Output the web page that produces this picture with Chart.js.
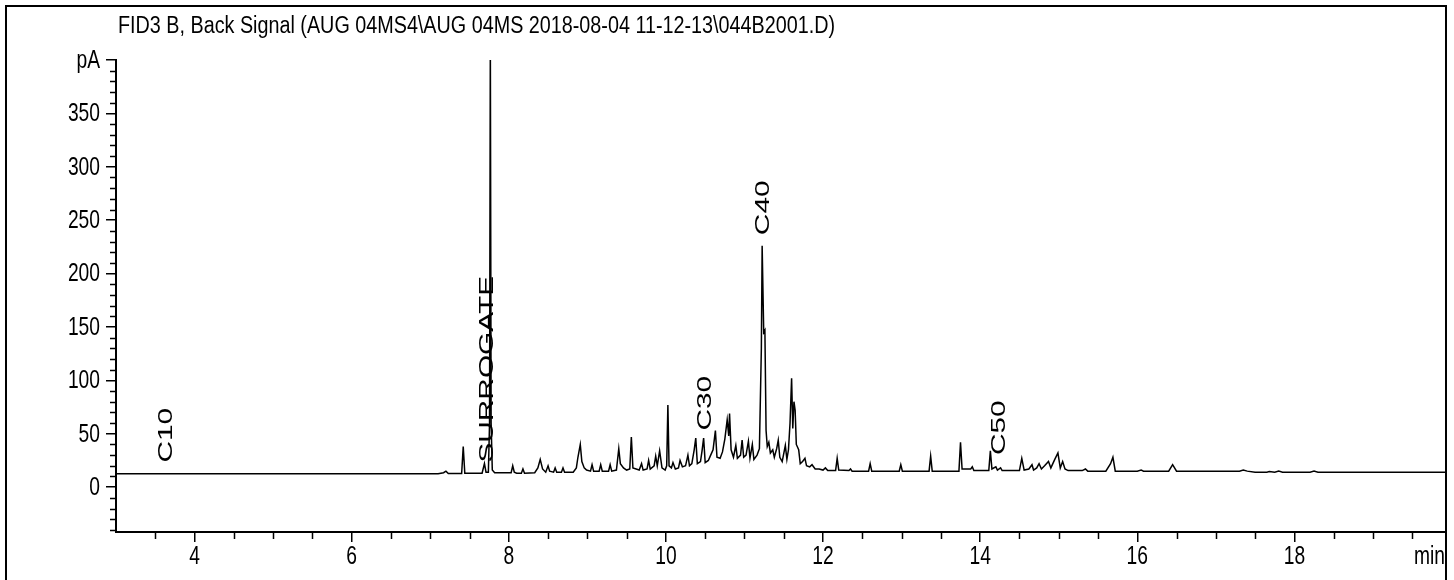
<!DOCTYPE html>
<html>
<head>
<meta charset="utf-8">
<script src="https://cdn.jsdelivr.net/npm/chart.js@4"></script>
<style>
  html, body { margin: 0; padding: 0; background: #fff; }
  #wrap { width: 1454px; height: 580px; }
</style>
</head>
<body>
<div id="wrap"><canvas id="chrom" width="1454" height="580"></canvas></div>
<script>
// retention time (min) and detector signal (pA)
const times = [
  3.00, 7.10, 7.17, 7.20, 7.23, 7.40, 7.42, 7.44, 7.66, 7.69, 7.71, 7.74, 7.755, 7.765, 7.775, 7.79, 7.82,
  8.03, 8.05, 8.07, 8.10, 8.16, 8.18, 8.20, 8.33, 8.37, 8.40, 8.43, 8.47, 8.50, 8.52, 8.57, 8.59, 8.61,
  8.67, 8.69, 8.71, 8.82, 8.86, 8.88, 8.91, 8.93, 8.96, 8.99, 9.04, 9.06, 9.08, 9.15, 9.17, 9.19, 9.27,
  9.29, 9.31, 9.37, 9.40, 9.42, 9.46, 9.50, 9.54, 9.56, 9.58, 9.66, 9.69, 9.71, 9.76, 9.78, 9.80, 9.85,
  9.87, 9.89, 9.92, 9.95, 9.99, 10.01, 10.025, 10.04, 10.07, 10.09, 10.12, 10.16, 10.18, 10.21, 10.25,
  10.28, 10.30, 10.33, 10.36, 10.38, 10.40, 10.44, 10.46, 10.48, 10.50, 10.54, 10.57, 10.60, 10.63, 10.65,
  10.69, 10.72, 10.75, 10.78, 10.80, 10.81, 10.83, 10.86, 10.89, 10.91, 10.95, 10.97, 10.99, 11.02, 11.05,
  11.07, 11.10, 11.12, 11.16, 11.19, 11.215, 11.225, 11.245, 11.26, 11.275, 11.29, 11.31, 11.33, 11.36,
  11.38, 11.41, 11.43, 11.45, 11.48, 11.52, 11.54, 11.56, 11.58, 11.60, 11.615, 11.63, 11.645, 11.66,
  11.69, 11.71, 11.74, 11.77, 11.79, 11.83, 11.86, 11.90, 11.95, 12.00, 12.03, 12.06, 12.16, 12.18, 12.20,
  12.33, 12.35, 12.37, 12.58, 12.60, 12.62, 12.97, 12.99, 13.01, 13.35, 13.37, 13.39, 13.73, 13.75, 13.77,
  13.88, 13.90, 13.92, 14.11, 14.13, 14.15, 14.20, 14.22, 14.26, 14.28, 14.50, 14.53, 14.56, 14.62, 14.66,
  14.68, 14.72, 14.75, 14.78, 14.82, 14.87, 14.90, 14.95, 14.99, 15.02, 15.05, 15.08, 15.12, 15.30, 15.34,
  15.37, 15.60, 15.66, 15.69, 15.72, 16.00, 16.05, 16.08, 16.40, 16.45, 16.50, 17.30, 17.35, 17.40, 17.50,
  17.65, 17.68, 17.75, 17.80, 17.85, 18.20, 18.25, 18.30, 20.00
];
const signal = [
  12.5, 12.5, 13.5, 15, 12.8, 12.8, 38, 13, 13, 22, 14, 14, 60, 420, 60, 16, 13.5,
  13.5, 20, 14, 13, 13, 17, 13, 13.5, 18, 26, 17, 14, 20, 15, 14, 18, 14,
  14, 18, 14, 14, 18, 28, 40, 24, 18, 16, 15, 21, 15, 15, 21, 15, 15,
  21, 15, 16, 36, 22, 18, 16, 17, 47, 18, 16, 22, 16, 17, 25, 17, 20,
  29, 20, 34, 18, 16, 20, 77, 20, 18, 23, 17, 18, 25, 19, 20,
  30, 20, 22, 35, 46, 22, 24, 34, 46, 23, 25, 30, 35, 53, 28,
  27, 33, 45, 63, 48, 69, 35, 28, 39, 27, 30, 44, 28, 30, 43,
  27, 40, 26, 30, 36, 130, 226, 145, 147, 53, 38, 42, 32, 35,
  28, 36, 44, 28, 24, 39, 26, 35, 60, 102, 55, 80, 72, 40,
  35, 22, 24, 27, 20, 19, 21, 17, 17, 16, 18, 15.5, 15.5, 27, 16,
  15.5, 17, 15, 15, 22, 15, 15, 21, 15, 15, 29, 15, 15, 42, 17,
  17, 19, 15.5, 15.5, 34, 17, 19, 16, 18, 15.5, 15.5, 27, 16, 17, 21,
  16, 18, 22, 17, 20, 24, 18, 26, 32, 18, 24, 17, 15.5, 15.5, 17,
  15, 15, 22, 28, 15, 15, 16, 15, 15, 21, 15, 15, 16, 15, 14,
  14, 14.6, 14, 15, 14, 14, 15, 14, 14
];

// retention markers
const markerNames = ['C10', 'SURROGATE', 'C30', 'C40', 'C50'];
const markerTimes = [3.64, 7.73, 10.50, 11.24, 14.24];
const markerLevels = [23, 23, 53, 236, 30];

const xTicks = [4, 6, 8, 10, 12, 14, 16, 18];
const yTicks = [0, 50, 100, 150, 200, 250, 300, 350, 400];
const yLabels = ['0', '50', '100', '150', '200', '250', '300', '350', 'pA'];

const titleText = 'FID3 B, Back Signal (AUG 04MS4\\AUG 04MS 2018-08-04 11-12-13\\044B2001.D)';

const sans = "'Liberation Sans', Arial, sans-serif";

const points = times.map((t, i) => ({ x: t, y: signal[i] }));

// draws text squeezed horizontally, like the narrow font of the original
function squeezed(ctx, text, px, py, align, sx) {
    const w = ctx.measureText(text).width * sx;
    let left = px;
    if (align === 'right') left = px - w;
    if (align === 'center') left = px - w / 2;
    ctx.save();
    ctx.translate(left, py);
    ctx.scale(sx, 1);
    ctx.textAlign = 'left';
    ctx.fillText(text, 0, 0);
    ctx.restore();
}

const extras = {
    id: 'extras',
    afterDraw(chart) {
        const { ctx, scales: { x, y } } = chart;
        ctx.save();

        // frame
        ctx.strokeStyle = '#000';
        ctx.lineWidth = 2;
        ctx.strokeRect(6, 6, 1440, 620);

        // minor ticks
        ctx.lineWidth = 1.5;
        ctx.beginPath();
        for (let v = -40; v <= 400; v += 10) {
            if (v % 50 === 0) continue;
            const py = Math.round(y.getPixelForValue(v)) + 0.5;
            ctx.moveTo(x.left - 6, py);
            ctx.lineTo(x.left, py);
        }
        for (let t = 3.5; t < x.max; t += 0.5) {
            if (t % 2 === 0) continue;
            const px = Math.round(x.getPixelForValue(t)) + 0.5;
            ctx.moveTo(px, y.bottom);
            ctx.lineTo(px, y.bottom + 7);
        }
        ctx.stroke();

        ctx.fillStyle = '#000';

        // title
        ctx.font = '23px ' + sans;
        ctx.textBaseline = 'alphabetic';
        const tw = ctx.measureText(titleText).width;
        squeezed(ctx, titleText, 118, 33, 'left', 717 / tw);

        // tick labels
        ctx.font = '25px ' + sans;
        ctx.textBaseline = 'middle';
        yTicks.forEach((v, i) => {
            squeezed(ctx, yLabels[i], x.left - 16, y.getPixelForValue(v) + 1, 'right', 0.77);
        });
        xTicks.forEach(v => {
            squeezed(ctx, String(v), x.getPixelForValue(v), 557, 'center', 0.77);
        });
        squeezed(ctx, 'min', x.right - 1, 557, 'right', 0.77);

        // marker labels, rotated
        ctx.font = '21px ' + sans;
        ctx.textBaseline = 'middle';
        ctx.textAlign = 'left';
        markerNames.forEach((name, i) => {
            ctx.save();
            ctx.translate(x.getPixelForValue(markerTimes[i]), y.getPixelForValue(markerLevels[i]));
            ctx.rotate(-Math.PI / 2);
            ctx.scale(1.42, 1);
            ctx.fillText(name, 0, 0);
            ctx.restore();
        });

        ctx.restore();
    }
};

const config = {
    type: 'line',
    data: {
        datasets: [{
            data: points,
            borderColor: '#000',
            borderWidth: 1.5,
            pointRadius: 0,
            tension: 0,
            fill: false
        }]
    },
    options: {
        responsive: false,
        animation: false,
        events: [],
        layout: { padding: { top: 60, right: 8, left: 0, bottom: 0 } },
        plugins: {
            legend: { display: false },
            title: { display: false },
            tooltip: { enabled: false }
        },
        scales: {
            x: {
                type: 'linear',
                min: 3,
                max: 19.93,
                afterBuildTicks: s => { s.ticks = xTicks.map(v => ({ value: v })); },
                afterFit: s => { s.height = 48; },
                grid: { drawOnChartArea: false, drawTicks: true, tickLength: 10, color: '#000', lineWidth: 1.5 },
                border: { display: true, color: '#000', width: 2 },
                ticks: { display: false }
            },
            y: {
                min: -42,
                max: 400,
                afterBuildTicks: s => { s.ticks = yTicks.map(v => ({ value: v })); },
                afterFit: s => { s.width = 116; },
                grid: { drawOnChartArea: false, drawTicks: true, tickLength: 10, color: '#000', lineWidth: 1.5 },
                border: { display: true, color: '#000', width: 2 },
                ticks: { display: false }
            }
        }
    },
    plugins: [extras]
};

const ctx = document.getElementById('chrom').getContext('2d');
const chromChart = new Chart(ctx, config);
</script>
</body>
</html>
